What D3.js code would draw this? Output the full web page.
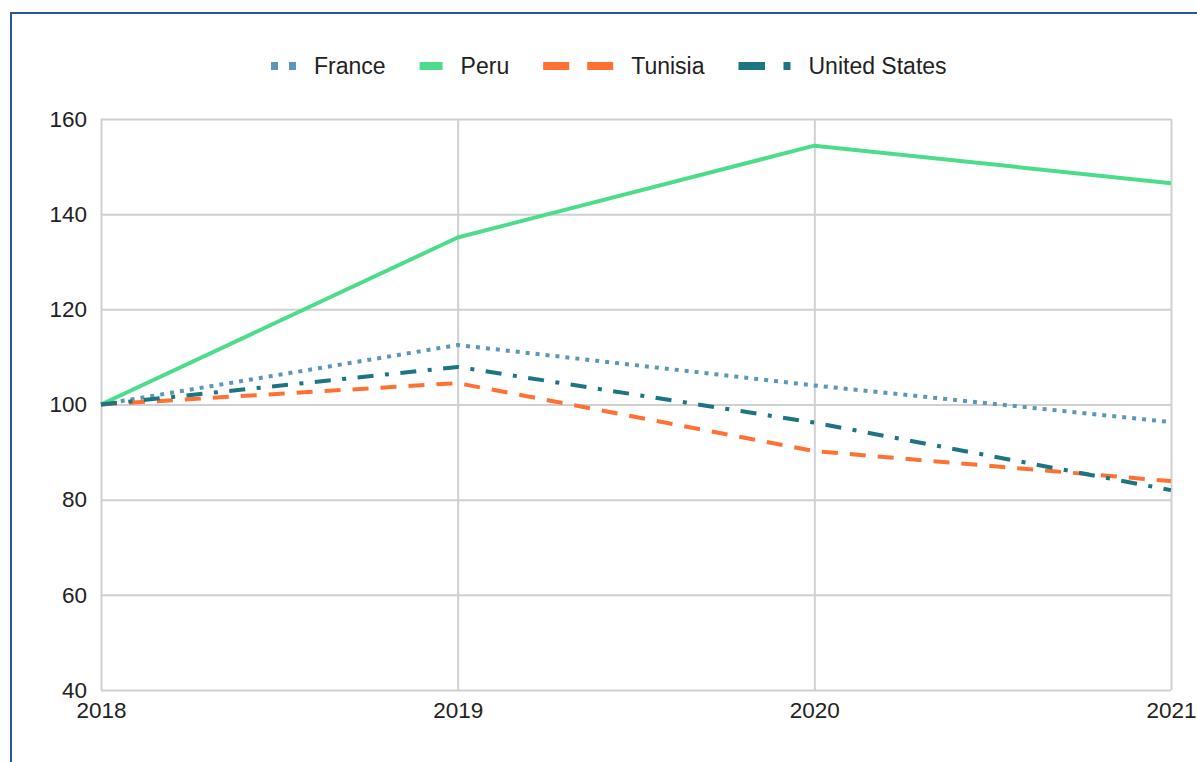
<!DOCTYPE html>
<html>
<head>
<meta charset="utf-8">
<script src="https://cdn.jsdelivr.net/npm/d3@7"></script>
<style>
  html, body { margin: 0; padding: 0; background: #fff; }
  svg { display: block; font-family: "Liberation Sans", Arial, sans-serif; }
</style>
</head>
<body>
<svg id="chart" width="1197" height="762"></svg>
<script>
// Index values by year (2018 = 100)
const years = ["2018", "2019", "2020", "2021"];
const france = [100, 112.5, 104.0, 96.3];
const peru = [100, 135.1, 154.4, 146.5];
const tunisia = [100, 104.5, 90.2, 83.9];
const unitedStates = [100, 107.9, 96.2, 82.0];
const yTicks = [40, 60, 80, 100, 120, 140, 160];

const series = [
  { name: "France", values: france, color: "#5c97b6", dash: "4,6", legendDash: "7,11", legendLen: 25 },
  { name: "Peru", values: peru, color: "#4cdc8b", dash: null, legendDash: null, legendLen: 23 },
  { name: "Tunisia", values: tunisia, color: "#ff7133", dash: "16,12", legendDash: "26,18", legendLen: 70 },
  { name: "United States", values: unitedStates, color: "#1d7482", dash: "16,11.5,4,11.5", legendDash: "26.5,18.5,7", legendLen: 52 }
];

const svg = d3.select("#chart");
const W = 1197, H = 762;
const plot = { left: 101, right: 1171, top: 119, bottom: 690 };

// outer frame (runs off the right and bottom edges)
svg.append("rect")
  .attr("x", 11).attr("y", 13)
  .attr("width", W + 20).attr("height", H + 20)
  .attr("fill", "none")
  .attr("stroke", "#2b5690")
  .attr("stroke-width", 2);

const x = d3.scalePoint().domain(years).range([plot.left, plot.right]);
const y = d3.scaleLinear().domain([40, 160]).range([plot.bottom, plot.top]);

// horizontal gridlines + y labels
const yAxis = d3.axisLeft(y).tickValues(yTicks).tickSize(-(plot.right - plot.left)).tickPadding(14);
const gy = svg.append("g").attr("transform", `translate(${plot.left},0)`).call(yAxis);
gy.select(".domain").remove();
gy.selectAll(".tick line").attr("stroke", "#d0d0d0").attr("stroke-width", 2);
gy.selectAll(".tick text").attr("font-size", 22.5).attr("fill", "#222").attr("font-family", "Liberation Sans, Arial, sans-serif");

// vertical gridlines + x labels
const xAxis = d3.axisBottom(x).tickSize(-(plot.bottom - plot.top)).tickPadding(12);
const gx = svg.append("g").attr("transform", `translate(0,${plot.bottom})`).call(xAxis);
gx.select(".domain").remove();
gx.selectAll(".tick line").attr("stroke", "#d0d0d0").attr("stroke-width", 2);
gx.selectAll(".tick text").attr("font-size", 22.5).attr("fill", "#222").attr("font-family", "Liberation Sans, Arial, sans-serif");

// series lines
const line = d3.line().x((d, i) => x(years[i])).y(d => y(d));
svg.append("g").selectAll("path")
  .data(series)
  .join("path")
  .attr("d", d => line(d.values))
  .attr("fill", "none")
  .attr("stroke", d => d.color)
  .attr("stroke-width", 4)
  .attr("stroke-linejoin", "round")
  .attr("stroke-dasharray", d => d.dash);

// legend
const legend = svg.append("g");
let lx = 271;
const ly = 66;
series.forEach(s => {
  legend.append("line")
    .attr("x1", lx).attr("x2", lx + s.legendLen)
    .attr("y1", ly).attr("y2", ly)
    .attr("stroke", s.color)
    .attr("stroke-width", 8)
    .attr("stroke-dasharray", s.legendDash);
  lx += s.legendLen + 18;
  const t = legend.append("text")
    .attr("x", lx).attr("y", ly)
    .attr("dy", "0.36em")
    .attr("font-size", 23)
    .attr("fill", "#222")
    .text(s.name);
  lx += t.node().getComputedTextLength() + 34;
});
</script>
</body>
</html>
